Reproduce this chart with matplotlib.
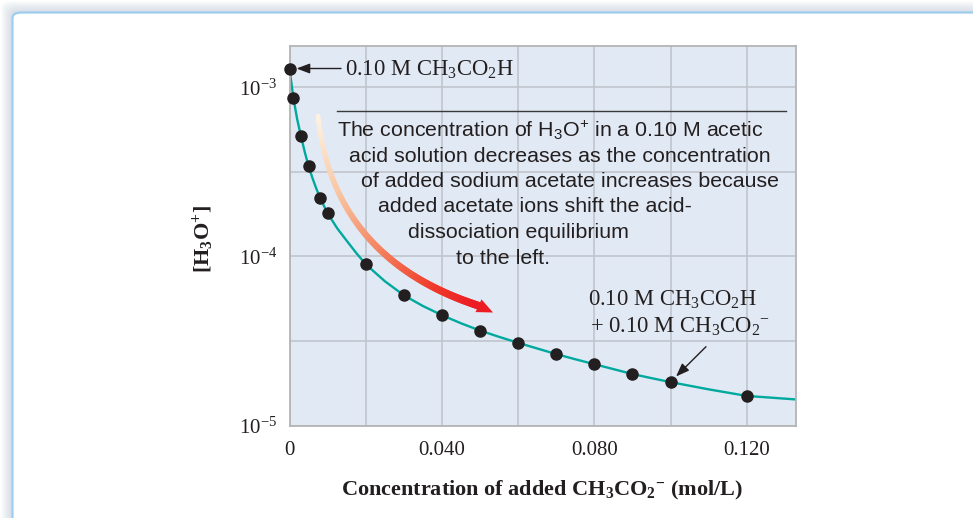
import numpy as np
import matplotlib.pyplot as plt
from matplotlib.collections import LineCollection
from matplotlib.colors import LinearSegmentedColormap
from matplotlib.patches import FancyBboxPatch, Polygon, FancyArrowPatch
from matplotlib.ticker import NullFormatter

plt.rcParams['font.family'] = ['Liberation Serif', 'DejaVu Serif']
plt.rcParams['mathtext.default'] = 'regular'

# measured points: added acetate (mol/L) vs [H3O+] (mol/L)
acetate = [0, 0.001, 0.003, 0.005, 0.008, 0.010, 0.020, 0.030, 0.040,
           0.050, 0.060, 0.070, 0.080, 0.090, 0.100, 0.120]
h3o = [1.29e-3, 8.7e-4, 5.15e-4, 3.41e-4, 2.23e-4, 1.80e-4, 9.0e-5, 5.9e-5,
       4.5e-5, 3.65e-5, 3.09e-5, 2.65e-5, 2.31e-5, 2.02e-5, 1.81e-5, 1.50e-5]

# smooth curve drawn through the points
curve_x = [0, 0.0005, 0.001, 0.002, 0.003, 0.004, 0.005, 0.006, 0.007, 0.008,
           0.009, 0.010, 0.0125, 0.015, 0.0175, 0.020, 0.025, 0.030, 0.035,
           0.040, 0.045, 0.050, 0.055, 0.060, 0.065, 0.070, 0.075, 0.080,
           0.085, 0.090, 0.095, 0.100, 0.110, 0.120, 0.1328]
curve_y = [1.29e-3, 1.06e-3, 8.7e-4, 6.5e-4, 5.15e-4, 4.15e-4, 3.41e-4,
           2.92e-4, 2.53e-4, 2.23e-4, 2.0e-4, 1.80e-4, 1.47e-4, 1.24e-4,
           1.05e-4, 9.0e-5, 7.15e-5, 5.9e-5, 5.1e-5, 4.5e-5, 4.03e-5, 3.65e-5,
           3.35e-5, 3.09e-5, 2.86e-5, 2.65e-5, 2.47e-5, 2.31e-5, 2.16e-5,
           2.02e-5, 1.91e-5, 1.81e-5, 1.64e-5, 1.50e-5, 1.43e-5]

x_ticks = [0, 0.04, 0.08, 0.12]
x_ticklabels = ['0', '0.040', '0.080', '0.120']
y_ticks = [1e-5, 1e-4, 1e-3]
y_ticklabels = [r'$10^{-5}$', r'$10^{-4}$', r'$10^{-3}$']

note_lines = ['The concentration of H$_3$O$^{{+}}$ in a 0.10 M acetic',
              'acid solution decreases as the concentration',
              'of added sodium acetate increases because',
              'added acetate ions shift the acid-',
              'dissociation equilibrium',
              'to the left.']

W, H = 973, 518


def fp(x, y):
    # pixel (from top-left) -> figure fraction
    return (x / W, 1 - y / H)


fig = plt.figure(figsize=(W / 100, H / 100), dpi=100)

# page frame with soft shadow
for k in range(12):
    fig.patches.append(FancyBboxPatch(
        fp(12 - k, 560), (1100) / W, (560 - 12 + k) / H,
        boxstyle='round,pad=0,rounding_size=0.012',
        transform=fig.transFigure, facecolor='#9fb2c6',
        edgecolor='none', alpha=0.04, zorder=-3))
fig.patches.append(FancyBboxPatch(
    fp(12.5, 560), 1100 / W, (560 - 12.5) / H,
    boxstyle='round,pad=0,rounding_size=0.01',
    transform=fig.transFigure, facecolor='white',
    edgecolor='#9fcdee', linewidth=1.6, zorder=-2))

ax = fig.add_axes([289.5 / W, 1 - 425.7 / H, 506 / W, 380.2 / H])
ax.set_facecolor('#e1e9f4')
ax.set_yscale('log')
ax.set_xlim(0, 0.1328)
ax.set_ylim(1e-5, 1.766e-3)

ax.set_xticks(x_ticks)
ax.set_xticklabels(x_ticklabels)
ax.set_xticks([0.02, 0.06, 0.10], minor=True)
ax.set_yticks(y_ticks)
ax.set_yticklabels(y_ticklabels)
ax.set_yticks([10 ** -4.5, 10 ** -3.5], minor=True)
ax.yaxis.set_minor_formatter(NullFormatter())
ax.xaxis.set_minor_formatter(NullFormatter())
ax.tick_params(which='both', length=0, labelsize=15, colors='#231f20')
ax.tick_params(axis='x', pad=11)
ax.tick_params(axis='y', pad=9)
ax.grid(which='both', color='#bfc3c9', linewidth=1.1)
ax.set_axisbelow(True)
for sp in ax.spines.values():
    sp.set_color('#b4b4b4')
    sp.set_linewidth(1.3)

ax.plot(curve_x, curve_y, color='#00a99d', linewidth=1.7, zorder=2)
ax.plot(acetate, h3o, 'o', color='#231f20', markersize=8,
        clip_on=False, zorder=3)

# axis titles
fig.text(*fp(203, 239), r'[H$_3$O$^{{+}}$]', rotation=90, ha='center',
         va='center', fontsize=16, fontweight='bold', color='#231f20')
fig.text(*fp(542.5, 490),
         r'Concentration of added CH$_3$CO$_2$$^{-}$ (mol/L)',
         ha='center', va='center', fontsize=16, fontweight='bold',
         color='#231f20')

# label for pure acid point
fig.text(*fp(345, 76), r'0.10 M CH$_3$CO$_2$H', ha='left', va='baseline',
         fontsize=16.3, color='#231f20')
fig.patches.append(FancyArrowPatch(
    fp(341, 68.5), fp(296.5, 68.5), transform=fig.transFigure,
    arrowstyle='-|>,head_length=0.8,head_width=0.3', mutation_scale=10,
    color='#231f20', linewidth=1, shrinkA=0, shrinkB=0, zorder=5))

# label for buffer point
fig.text(*fp(588, 306), r'0.10 M CH$_3$CO$_2$H', ha='left', va='baseline',
         fontsize=16.3, color='#231f20')
fig.text(*fp(590.5, 332.7), r'+ 0.10 M CH$_3$CO$_2$$^{-}$', ha='left',
         va='baseline', fontsize=16.3, color='#231f20')
fig.patches.append(FancyArrowPatch(
    fp(706, 346.7), fp(676, 376.5), transform=fig.transFigure,
    arrowstyle='-|>,head_length=0.8,head_width=0.3', mutation_scale=10,
    color='#231f20', linewidth=1, shrinkA=0, shrinkB=0, zorder=5))

# explanatory note
fig.add_artist(plt.Line2D([336.7 / W, 786 / W], [1 - 110.7 / H] * 2,
                          color='#3a3a3a', linewidth=1))
note_left = [337, 349, 361, 378, 408, 456]
note_base = [136.7, 161.9, 187.3, 212.5, 237.8, 263.5]
for txt, lx, by in zip(note_lines, note_left, note_base):
    fig.text(*fp(lx, by), txt, ha='left', va='baseline', fontsize=15.4,
             family=['Liberation Sans', 'DejaVu Sans'], color='#231f20')

# gradient curved arrow (quadratic bezier in pixel space), widening towards the head
p0 = np.array([318.0, 116.0])
pc = np.array([333.0, 258.0])
p2 = np.array([478.0, 305.5])
t = np.linspace(0, 1, 120)[:, None]
pts = (1 - t) ** 2 * p0 + 2 * t * (1 - t) * pc + t ** 2 * p2
pts_f = np.column_stack([pts[:, 0] / W, 1 - pts[:, 1] / H])
segs = np.stack([pts_f[:-1], pts_f[1:]], axis=1)
cmap = LinearSegmentedColormap.from_list(
    'warm', [(0.0, '#fdf3e3'), (0.3, '#f9c7a4'), (0.6, '#f4825f'),
             (0.85, '#ef3a2a'), (1.0, '#ec1c24')])
lc = LineCollection(segs, cmap=cmap, linewidths=np.linspace(3.3, 5.6, len(segs)),
                    transform=fig.transFigure, capstyle='round', zorder=4)
lc.set_array(np.linspace(0, 1, len(segs)))
fig.add_artist(lc)

tip = np.array([493.0, 312.5])
d = tip - p2
d = d / np.linalg.norm(d)
base = tip - d * 16
nrm = np.array([-d[1], d[0]])
head = np.array([tip, base + nrm * 7, base - nrm * 7])
fig.patches.append(Polygon(np.column_stack([head[:, 0] / W, 1 - head[:, 1] / H]),
                           closed=True, transform=fig.transFigure,
                           facecolor='#ec1c24', edgecolor='none', zorder=4))

fig.savefig('out.png', dpi=100)
